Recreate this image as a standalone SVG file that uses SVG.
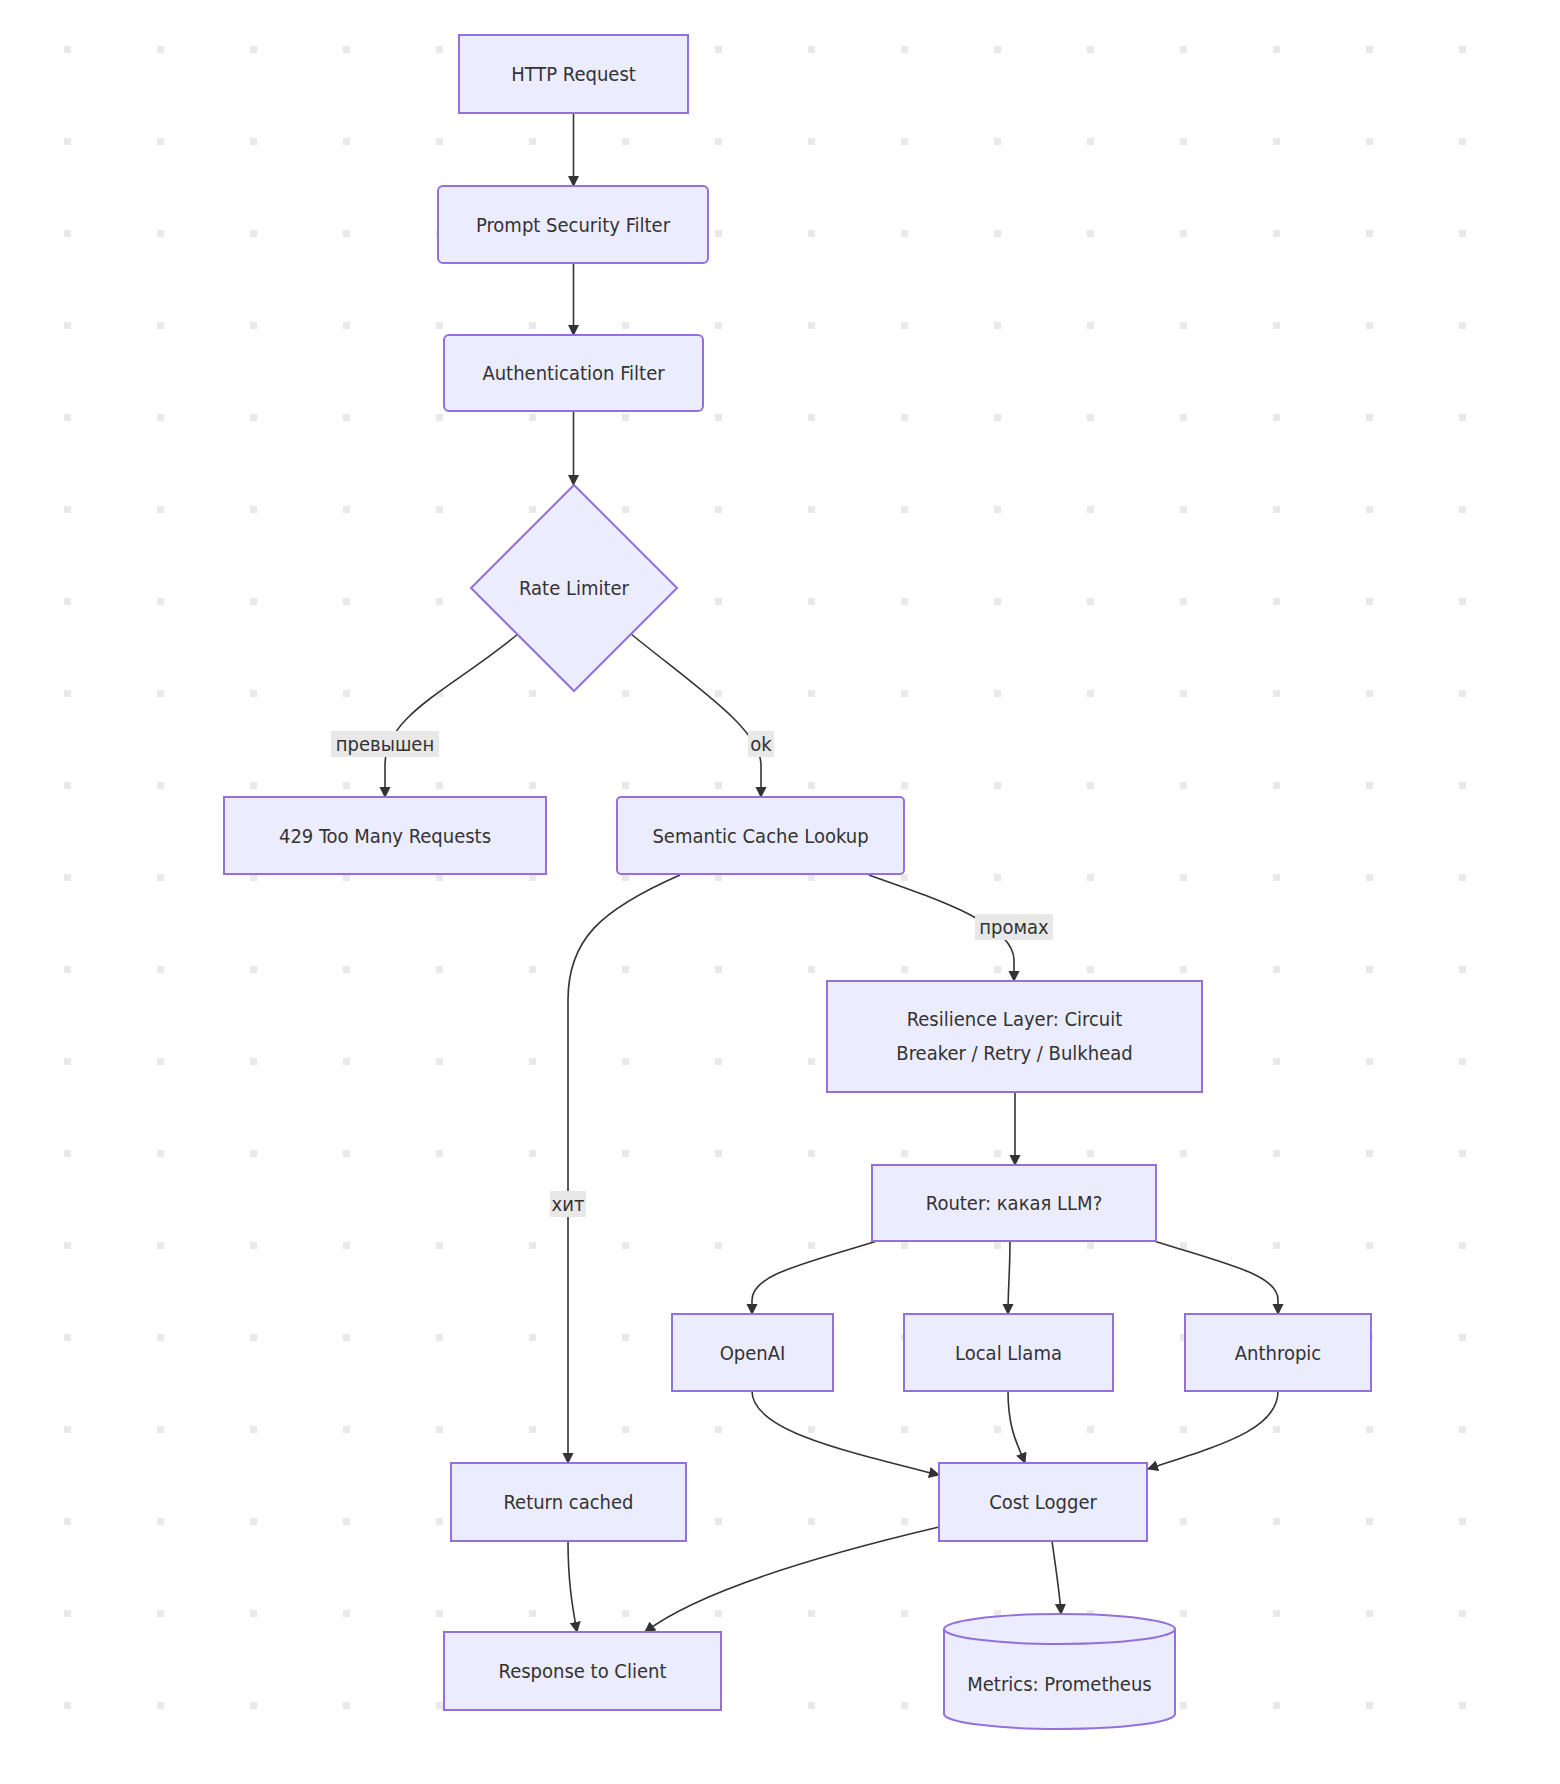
<svg xmlns="http://www.w3.org/2000/svg" width="1560" height="1784" viewBox="0 0 1560 1784">
<style>
.n{fill:#ECECFF;stroke:#9370DB;stroke-width:2}
.t{font-family:"DejaVu Sans Condensed","DejaVu Sans",sans-serif;font-size:20px;fill:#333;text-anchor:middle;dominant-baseline:central}
.e{fill:none;stroke:#333;stroke-width:1.6;marker-end:url(#a)}
.lb{fill:#e8e8e8}
</style>
<defs>
<marker id="a" viewBox="0 0 10 10" refX="9" refY="5" markerWidth="7" markerHeight="7" orient="auto"><path d="M0,0L10,5L0,10z" fill="#333"/></marker>
<pattern id="g" x="64" y="46" width="93" height="92" patternUnits="userSpaceOnUse"><rect width="7" height="7" fill="#e9e9e9"/></pattern>
</defs>
<rect width="1560" height="1784" fill="#fff"/>
<rect x="60" y="40" width="1410" height="1700" fill="url(#g)"/>
<g id="connectors">
<path class="e" d="M573.5,113V186"/>
<path class="e" d="M573.5,263V335"/>
<path class="e" d="M573.5,411V485"/>
<path class="e" d="M518,634C450,690 385,715 385,765L385,797"/>
<path class="e" d="M631,634C700,690 761,730 761,765L761,797"/>
<path class="e" d="M869,875C940,900 1014,925 1014,960L1014,981"/>
<path class="e" d="M680,875C600,910 568,940 568,1000L568,1463"/>
<path class="e" d="M1015,1092V1165"/>
<path class="e" d="M877,1241C800,1265 752,1275 752,1300L752,1314"/>
<path class="e" d="M1010,1241C1010,1270 1008,1290 1008,1314"/>
<path class="e" d="M1154,1241C1230,1265 1278,1275 1278,1300L1278,1314"/>
<path class="e" d="M752,1391C752,1430 840,1450 939,1475"/>
<path class="e" d="M1008,1391C1008,1430 1018,1445 1025,1463"/>
<path class="e" d="M1278,1391C1278,1430 1220,1445 1148,1469"/>
<path class="e" d="M568,1541C568,1580 572,1605 577,1632"/>
<path class="e" d="M939,1527C820,1555 700,1590 645,1632"/>
<path class="e" d="M1052,1541C1056,1570 1060,1595 1061,1614"/>
<rect class="lb" x="331" y="731" width="108" height="26"/><text class="t" x="385" y="744">превышен</text>
<rect class="lb" x="748" y="731" width="26" height="26"/><text class="t" x="761" y="744">ok</text>
<rect class="lb" x="975" y="914" width="78" height="26"/><text class="t" x="1014" y="927">промах</text>
<rect class="lb" x="550" y="1191" width="36" height="26"/><text class="t" x="568" y="1204">хит</text>
</g>
<g id="http"><rect class="n" x="459" y="35" width="229" height="78"/><text class="t" x="573.5" y="74">HTTP Request</text></g>
<g id="prompt"><rect class="n" x="438" y="186" width="270" height="77" rx="5"/><text class="t" x="573" y="224.5">Prompt Security Filter</text></g>
<g id="auth"><rect class="n" x="444" y="335" width="259" height="76" rx="5"/><text class="t" x="573.5" y="373">Authentication Filter</text></g>
<g id="rate"><path class="n" d="M574,485L677,588L574,691L471,588Z"/><text class="t" x="574" y="588">Rate Limiter</text></g>
<g id="toomany"><rect class="n" x="224" y="797" width="322" height="77"/><text class="t" x="385" y="835.5">429 Too Many Requests</text></g>
<g id="cache"><rect class="n" x="617" y="797" width="287" height="77" rx="4"/><text class="t" x="760.5" y="835.5">Semantic Cache Lookup</text></g>
<g id="resilience"><rect class="n" x="827" y="981" width="375" height="111"/><text class="t" x="1014.5" y="1019">Resilience Layer: Circuit</text><text class="t" x="1014.5" y="1053">Breaker / Retry / Bulkhead</text></g>
<g id="router"><rect class="n" x="872" y="1165" width="284" height="76"/><text class="t" x="1014" y="1203">Router: какая LLM?</text></g>
<g id="openai"><rect class="n" x="672" y="1314" width="161" height="77"/><text class="t" x="752.5" y="1352.5">OpenAI</text></g>
<g id="llama"><rect class="n" x="904" y="1314" width="209" height="77"/><text class="t" x="1008.5" y="1352.5">Local Llama</text></g>
<g id="anthropic"><rect class="n" x="1185" y="1314" width="186" height="77"/><text class="t" x="1278" y="1352.5">Anthropic</text></g>
<g id="cached"><rect class="n" x="451" y="1463" width="235" height="78"/><text class="t" x="568.5" y="1502">Return cached</text></g>
<g id="cost"><rect class="n" x="939" y="1463" width="208" height="78"/><text class="t" x="1043" y="1502">Cost Logger</text></g>
<g id="response"><rect class="n" x="444" y="1632" width="277" height="78"/><text class="t" x="582.5" y="1671">Response to Client</text></g>
<g id="metrics"><path class="n" d="M944,1629A115.5,15 0 0 1 1175,1629V1714A115.5,15 0 0 1 944,1714Z"/><path class="n" d="M944,1629A115.5,15 0 0 0 1175,1629" fill="none"/><text class="t" x="1059.5" y="1684">Metrics: Prometheus</text></g>
</svg>
